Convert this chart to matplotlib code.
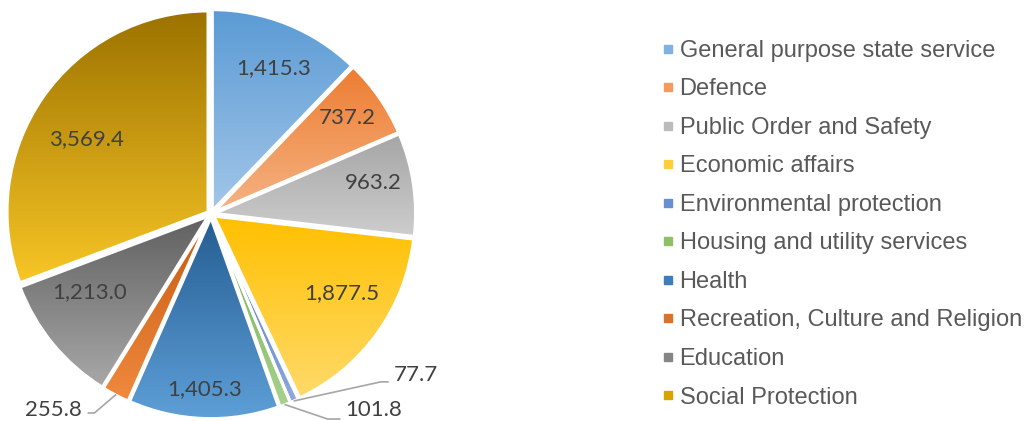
import numpy as np
import matplotlib
matplotlib.use("Agg")
import matplotlib.pyplot as plt
from matplotlib.colors import to_rgb
from matplotlib.lines import Line2D

categories = ["General purpose state service", "Defence", "Public Order and Safety",
              "Economic affairs", "Environmental protection", "Housing and utility services",
              "Health", "Recreation, Culture and Religion", "Education", "Social Protection"]
values = [1415.3, 737.2, 963.2, 1877.5, 77.7, 101.8, 1405.3, 255.8, 1213.0, 3569.4]
labels = ["1,415.3", "737.2", "963.2", "1,877.5", "77.7", "101.8", "1,405.3", "255.8", "1,213.0", "3,569.4"]

# gradient colours (top, bottom) per slice
top_colors = ["#5B9BD5", "#ED7D31", "#A5A5A5", "#FFC000", "#4472C4", "#70AD47",
              "#245D91", "#C55A11", "#606060", "#9C7200"]
bottom_colors = ["#A2C6E8", "#F5B384", "#CDCDCD", "#FFDA6A", "#8FAADC", "#A9D18E",
                 "#5E9FD8", "#F08A3E", "#A8A8A8", "#F8C626"]
legend_colors = ["#7FB2E0", "#F29B5E", "#BBBBBB", "#FFCE3A", "#6A8FD0", "#8EC06A",
                 "#3C7DBA", "#DC7228", "#858585", "#D6A500"]

# inside-label layout: (radius, angle shift in degrees) relative to slice middle
inside = {0: (0.79, -1.4), 1: (0.83, 0.5), 2: (0.82, 2.4), 3: (0.76, 4.4),
          6: (0.87, 0.0), 8: (0.72, -6.6), 9: (0.72, 3.7)}
# outside-label layout: (text x, text y, elbow x, elbow y, ha) in axes data units
outside = {
    4: (0.91, -0.80, 0.845, -0.835, "left"),
    5: (0.67, -0.975, 0.58, -1.02, "left"),
    7: (-0.64, -0.975, -0.58, -0.99, "right"),
}

L = 1.02
fig = plt.figure(figsize=(10.29, 4.21), dpi=100)
ax = fig.add_axes([(211 - 201 * L) / 1029, (207 - 201 * L) / 421, 402 * L / 1029, 402 * L / 421])

wedges, _ = ax.pie(values, startangle=90, counterclock=False, radius=1.0,
                   explode=[0.018] * len(values),
                   wedgeprops=dict(edgecolor="white", linewidth=2.2))

for i, w in enumerate(wedges):
    ext = w.get_path().get_extents()
    c1 = np.array(to_rgb(top_colors[i]))
    c2 = np.array(to_rgb(bottom_colors[i]))
    t = np.linspace(0, 1, 256)[:, None]
    grad = (c1[None, :] * (1 - t) + c2[None, :] * t)[:, None, :]
    im = ax.imshow(grad, extent=(ext.x0, ext.x1, ext.y0, ext.y1), origin="upper",
                   aspect="auto", zorder=1, interpolation="bilinear")
    im.set_clip_path(w)
    w.set_facecolor("none")
    w.set_zorder(2)

ax.set_xlim(-L, L)
ax.set_ylim(-L, L)
ax.set_aspect("equal")
ax.axis("off")

for i, w in enumerate(wedges):
    mid_deg = (w.theta1 + w.theta2) / 2
    mid = np.deg2rad(mid_deg)
    if i in outside:
        cx, cy = w.center
        tx, ty, ex, ey, ha = outside[i]
        px, py = cx + np.cos(mid), cy + np.sin(mid)
        ax.plot([px, ex, tx - (0.03 if ha == "left" else -0.03)], [py, ey, ey],
                color="#A6A6A6", lw=1.2, zorder=3, clip_on=False)
        ax.text(tx, ty, labels[i], ha=ha, va="center", fontsize=16, color="#404040",
                family="Lato", zorder=4, clip_on=False)
    else:
        r, shift = inside[i]
        a = np.deg2rad(mid_deg + shift)
        ax.text(r * np.cos(a), r * np.sin(a), labels[i], ha="center",
                va="center", fontsize=16, color="#404040", family="Lato", zorder=4)

handles = [Line2D([], [], marker="s", linestyle="none", markersize=5.5,
                  markerfacecolor=c, markeredgecolor=c) for c in legend_colors]
leg = fig.legend(handles, categories, loc="upper left", bbox_to_anchor=(650 / 1029, 1 - 28 / 421),
                 frameon=False, prop=dict(family="Liberation Sans", size=17),
                 labelspacing=0.7, handlelength=0.5, handletextpad=0.25, borderpad=0)
for t in leg.get_texts():
    t.set_color("#595959")

fig.savefig("out.png", dpi=100, facecolor="white")
